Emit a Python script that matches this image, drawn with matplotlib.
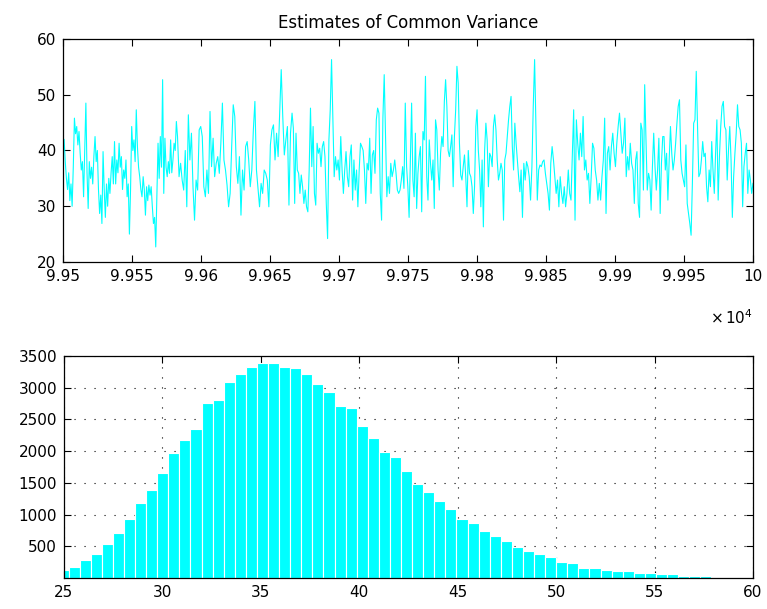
import numpy as np
import matplotlib
matplotlib.use("Agg")
from matplotlib import pyplot as plt

# variance draws from the last 500 iterations, kept in chunks by iteration range
trace_chunks = [
    (99500, 99583, [
        40, 42, 38, 35, 33, 36, 31, 34, 30, 37, 45.8, 43, 44.3, 41, 43.4, 39.5, 36.5, 38, 31.7, 40,
        48.5, 36, 29.6, 38, 35, 37, 34, 39, 42.5, 38, 40, 33, 28.7, 32, 26.9, 39.8, 33, 28, 34, 30,
        35, 32.3, 36, 38.9, 34, 41.6, 34, 38.3, 36, 41.3, 37, 38.9, 33, 36.5, 35, 38.3, 31.7, 34, 25, 33,
        44.3, 40, 41.9, 38, 47.3, 40.7, 37, 35.3, 33, 31.7, 35.3, 33, 28.4, 33.5, 31, 33.8, 32, 33.5, 30, 26.9,
        28, 22.7, 32, 41.3, 35, 42.5, 37, 52.7, 32.3, 42.2, 37, 35.3, 38, 35.9, 41.9, 36, 38.3, 41.3, 40, 45.2,
    ]),
    (99583, 99666, [
        42.5, 35.3, 37.7, 34.7, 32.9, 40, 29.9, 46.4, 38.3, 43.1, 33.5, 27.5, 34.7, 32.9, 43.7, 44.3, 42.5, 33.5,
        31.7, 36.5, 32.3, 47, 37.1, 42.2, 35.3, 37.7, 38.9, 35.9, 41.3, 48.5, 38.3, 36.5, 33.8, 29.9, 32.3, 40.7,
        48.2, 46.1, 37.1, 34.1, 38.9, 28.4, 36.5, 32.9, 40.7, 41.6, 38.3, 33.5, 36.5, 43.7, 48.8, 36.5, 33.2, 29.9,
        34.1, 32.3, 36.5, 35.9, 34.7, 29.9, 41, 43.7, 44.6, 38.3, 43.1, 38.9, 46.7, 54.5, 46.1, 39.2, 41.9, 44.3,
        30.2, 43.1,
    ]),
    (99666, 99749, [
        46.7, 44, 30.5, 43.1, 36.5, 35.9, 32.3, 35.6, 33.5, 30.5, 32.9, 29.9, 29, 36.5, 47.6, 37.1, 44.3, 32.3,
        30.2, 41.3, 39.5, 40.4, 37.1, 40.7, 41.6, 38.9, 30.5, 24.2, 41.9, 47.3, 56.3, 46.1, 35.3, 38.9, 36.5, 38.3,
        34.7, 42.5, 36.5, 32.3, 36.5, 39.8, 35.3, 33.5, 38.9, 41, 31.1, 38.3, 32.9, 36.5, 29.9, 36.5, 41.3, 40.7,
        40, 36.5, 30.5, 37.7, 36.5, 42.2, 32.3, 39.2, 40, 35.9, 45.5, 47.6, 46.7, 32.3, 27.5, 45.8, 53.6, 42.5,
        31.7, 35.3, 32.3, 37.7, 35.3, 36.5, 38.3, 35.9, 32.9, 32.3, 32.9, 34.7, 37.1, 33.2, 48.5,
    ]),
    (99749, 99832, [
        37.1, 33.5, 28, 38.3, 48.5, 34.7, 31.7, 43.1, 29.6, 35.9, 38.9, 40.7, 29, 43.4, 41.9, 53.3, 35.3, 31.1,
        41.9, 37.7, 34.7, 38.3, 29.6, 45.5, 43.7, 36.5, 32.9, 39.5, 42.5, 40.7, 48.8, 52.7, 47.9, 40, 38.9, 40.7,
        42.8, 33.5, 42.5, 47.3, 55.1, 52.1, 41.3, 35.6, 34.7, 37.1, 39.2, 35.3, 29.9, 40, 35.9, 35.3, 33.5, 28.7,
        33.5, 44.3, 47.3, 40, 36.5, 29.9, 38.3, 26.3, 40, 44.9, 41.9, 33.5, 39.5, 38.9, 37.1, 44.3, 46.4, 43.7,
        38.3, 34.7, 35.9, 37.7, 36.5, 27.5, 38.3, 39.5, 42.5, 45.5, 47.9, 49.7, 40.7, 36.5, 44.9, 41.3, 38.3, 35.3,
        32.6,
    ]),
    (99832, 99915, [
        36.5, 28, 37.7, 34.7, 38, 37.1, 35.3, 31.1, 37.1, 47.9, 56.3, 44.3, 31.1, 36.5, 37.4, 37.1, 38, 38.3,
        35.9, 34.1, 32.3, 29.3, 37.7, 40.7, 38.3, 35.3, 32.3, 34.7, 29.9, 35.3, 32.3, 30.5, 33.5, 29.9, 32.3, 36.5,
        32.3, 31.1, 38.9, 47.3, 27.5, 45.5, 41.3, 38.3, 43.1, 38.9, 46.1, 36.5, 38.3, 34.7, 35.9, 30.5, 35.3, 41.3,
        40.4, 36.5, 34.7, 31.1, 34.1, 31.1, 35.3, 38.3, 45.8, 28.7, 39.5, 40.7, 36.5, 40.7, 43.1, 39.5, 37.1, 41.3,
        44.3, 46.7, 43.1, 39.5, 41.3, 45.8, 35.3, 38.9, 36.5, 41.3, 37.7, 36.5, 30.5,
    ]),
    (99915, 100000, [
        38.3, 39.8, 30.5, 28, 44.9, 43.7, 32.9, 51.8, 41.9, 32.9, 35.9, 34.7, 29.3, 37.1, 43.1, 37.1, 32.9, 36.5,
        42.2, 28.7, 37.7, 42.5, 42.5, 36.5, 39.5, 31.1, 38.3, 44.3, 39.5, 36.5, 38.3, 41.3, 44.9, 47.9, 49.1, 38.3,
        35.9, 34.7, 33.5, 41, 30.5, 28.7, 26.9, 24.8, 34.1, 44.9, 45.5, 54.2, 44.3, 35.3, 35.9, 38.3, 41.6, 38.9,
        39.5, 33.5, 30.8, 36.5, 33.5, 41.6, 36.5, 32.3, 39.5, 45.5, 31.1, 38.9, 44.3, 47.9, 48.8, 44.3, 43.7, 34.7,
        40, 44.3, 38.3, 28, 35.3, 39.5, 43.1, 48.2, 44.3, 43.7, 41.3, 29.9, 37.1, 39.5, 41.3, 32.3, 36.5, 34.7,
        32.3, 34.1,
    ]),
]

# histogram of all variance draws
bin_start = 24.95
bin_width = 0.563
bin_counts = [
    130, 178, 283, 378, 530, 708, 929, 1180, 1380, 1653,
    1978, 2183, 2356, 2760, 2807, 3085, 3211, 3332, 3384, 3384,
    3332, 3305, 3211, 3059, 2933, 2707, 2681, 2403, 2204, 1983,
    1910, 1684, 1485, 1359, 1212, 1086, 934, 860, 735, 661,
    588, 483, 430, 383, 331, 257, 231, 157, 157, 131,
    110, 110, 84, 84, 58, 58, 31, 31, 31,
]

iters = []
trace = []
for start, stop, vals in trace_chunks:
    last = stop == 100000
    iters.extend(np.linspace(start, stop, len(vals), endpoint=last))
    trace.extend(vals)

centers = bin_start + bin_width * np.arange(len(bin_counts))

plt.rcParams['font.family'] = ['DejaVu Sans']
plt.rcParams['font.size'] = 11

fig = plt.figure(figsize=(7.67, 6.09), dpi=100)
ax1 = fig.add_axes([0.0821, 0.5698, 0.8996, 0.3662])
ax2 = fig.add_axes([0.0834, 0.0509, 0.8983, 0.3645])

# trace plot
ax1.plot(iters, trace, color=(0, 1, 1), linewidth=0.8)
ax1.set_xlim(99500, 100000)
ax1.set_ylim(20, 60)
ticks = np.arange(99500, 100001, 50)
ax1.set_xticks(ticks)
ax1.set_xticklabels([f'{v / 1e4:g}' for v in ticks])
ax1.set_yticks([20, 30, 40, 50, 60])
ax1.set_title('Estimates of Common Variance', fontsize=12, pad=8)
ax1.text(1.0, -0.25, r'$\times\,10^{4}$', transform=ax1.transAxes,
         ha='right', va='center', fontsize=11)

# histogram
ax2.bar(centers, bin_counts, width=bin_width, color=(0, 1, 1),
        edgecolor='white', linewidth=0.8, zorder=2)
ax2.set_xlim(25, 60)
ax2.set_ylim(0, 3500)
ax2.set_xticks(np.arange(25, 61, 5))
ax2.set_yticks(np.arange(500, 3501, 500))
ax2.set_axisbelow(True)
ax2.grid(True, color='black', linestyle=(0, (1, 8)), linewidth=0.8)

for ax in (ax1, ax2):
    ax.tick_params(direction='in', top=True, right=True, length=5, width=0.8,
                   labelsize=11, pad=5)
    for sp in ax.spines.values():
        sp.set_linewidth(0.9)
        sp.set_zorder(5)

fig.savefig('out.png', dpi=100)
